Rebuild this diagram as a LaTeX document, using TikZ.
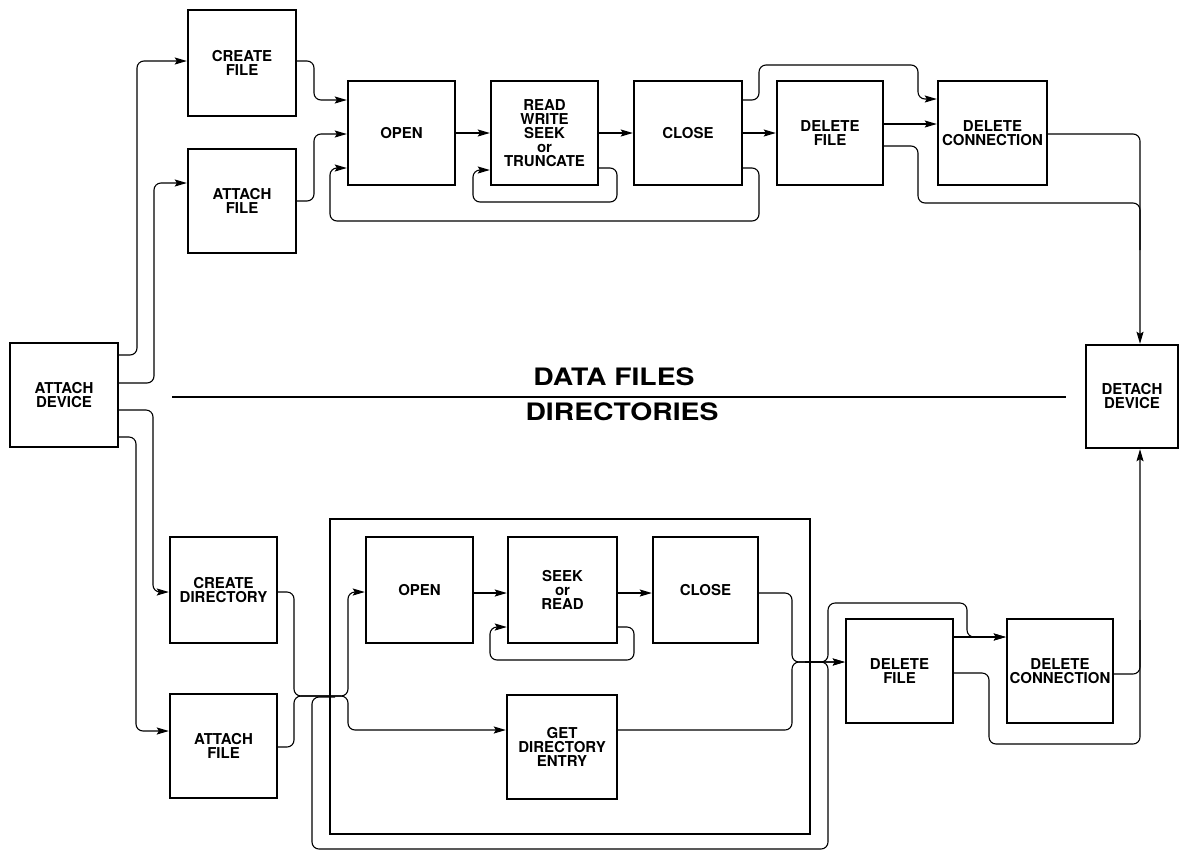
\documentclass[tikz,border=0pt]{standalone}
\usepackage{fontspec}
\usepackage{graphicx}
\setmainfont{TeX Gyre Heros}
\usetikzlibrary{arrows.meta}
\newcommand\bxfont{\bfseries\fontsize{15}{14}\selectfont}
\newcommand\ttlfont{\bfseries\fontsize{24}{26}\selectfont}
\tikzset{
  box/.style={draw, line width=2.4pt, inner sep=0pt, align=center, font=\bxfont},
  conn/.style={line width=1.1pt, rounded corners=7pt},
  arr/.style={conn, -{Stealth[length=12pt,width=7pt,inset=2pt]}},
  title/.style={inner sep=0pt, font=\ttlfont},
}
\begin{document}
\begin{tikzpicture}[x=1pt,y=-1pt]
\useasboundingbox (0,0) rectangle (1180,852);
% ---------- boxes: data files ----------
\node[box, minimum width=108pt, minimum height=104pt] (ad) at (64,395) {ATTACH\\DEVICE};
\node[box, minimum width=108pt, minimum height=106pt] (cf) at (242,63) {CREATE\\FILE};
\node[box, minimum width=108pt, minimum height=104pt] (af) at (242,201) {ATTACH\\FILE};
\node[box, minimum width=107pt, minimum height=104pt] (op) at (401.5,133) {OPEN};
\node[box, minimum width=107pt, minimum height=104pt] (rw) at (544.5,133) {READ\\WRITE\\SEEK\\or\\TRUNCATE};
\node[box, minimum width=108pt, minimum height=104pt] (cl) at (688,133) {CLOSE};
\node[box, minimum width=106pt, minimum height=104pt] (df) at (830,133) {DELETE\\FILE};
\node[box, minimum width=109pt, minimum height=104pt] (dc) at (992.5,133) {DELETE\\CONNECTION};
\node[box, minimum width=92pt, minimum height=103pt] (dd) at (1132,396.5) {DETACH\\DEVICE};
% ---------- divider and titles ----------
\coordinate (divl) at (172,397);
\coordinate (divr) at (1066,397);
\draw[line width=1.8pt] (divl) -- (divr);
\node[title] (t1) at (614,377) {\scalebox{1.18}[1]{DATA FILES}};
\node[title] (t2) at (622,412) {\scalebox{1.18}[1]{DIRECTORIES}};
% ---------- boxes: directories ----------
\node[draw, line width=2.8pt, inner sep=0pt, minimum width=480pt, minimum height=315pt] (grp) at (570,676.5) {};
\node[box, minimum width=107pt, minimum height=106pt] (cd) at (223.5,590) {CREATE\\DIRECTORY};
\node[box, minimum width=107pt, minimum height=104pt] (af2) at (223.5,746) {ATTACH\\FILE};
\node[box, minimum width=107pt, minimum height=106pt] (op2) at (419.5,590) {OPEN};
\node[box, minimum width=109pt, minimum height=106pt] (sr) at (562.5,590) {SEEK\\or\\READ};
\node[box, minimum width=105pt, minimum height=106pt] (cl2) at (705.5,590) {CLOSE};
\node[box, minimum width=110pt, minimum height=104pt] (gd) at (562,747) {GET\\DIRECTORY\\ENTRY};
\node[box, minimum width=107pt, minimum height=104pt] (df2) at (899.5,671) {DELETE\\FILE};
\node[box, minimum width=106pt, minimum height=104pt] (dc2) at (1060,671) {DELETE\\CONNECTION};
% ---------- connectors: attach device ----------
\draw[arr] (ad.east |- 0,355) -- (137,355) -- (137,61) -- (cf.west |- 0,61);
\draw[arr] (ad.east |- 0,383) -- (154,383) -- (154,183) -- (af.west |- 0,183);
\draw[arr] (ad.east |- 0,410) -- (153,410) -- (153,592) -- (cd.west |- 0,592);
\draw[arr] (ad.east |- 0,437) -- (136,437) -- (136,731) -- (af2.west |- 0,731);
% ---------- connectors: data files ----------
\draw[arr] (cf.east |- 0,61) -- (314,61) -- (314,100) -- (op.west |- 0,100);
\draw[arr] (af.east |- 0,201) -- (314,201) -- (314,134) -- (op.west |- 0,134);
\draw[arr] (cl.east |- 0,168) -- (759,168) -- (759,221) -- (330,221) -- (330,168) -- (op.west |- 0,168);
\draw[arr] (op.east) -- (rw.west);
\draw[arr] (rw.east |- 0,168) -- (617,168) -- (617,202) -- (473,202) -- (473,170) -- (rw.west |- 0,170);
\draw[arr] (rw.east) -- (cl.west);
\draw[arr] (cl.east) -- (df.west);
\draw[arr] (cl.east |- 0,100) -- (759,100) -- (759,65) -- (918,65) -- (918,99) -- (dc.west |- 0,99);
\draw[arr] (df.east |- 0,124) -- (dc.west |- 0,124);
\draw[conn] (df.east |- 0,146) -- (918,146) -- (918,203) -- (1140,203) -- (1140,250);
\draw[arr] (dc.east |- 0,134) -- (1140,134) -- (dd.north -| 1140,0);
% ---------- connectors: directories ----------
\draw[arr] (cd.east |- 0,592) -- (294,592) -- (294,696) -- (348,696) -- (348,592) -- (op2.west |- 0,592);
\draw[arr] (af2.east |- 0,747) -- (294,747) -- (294,696) -- (348,696) -- (348,730) -- (gd.west |- 0,730);
\draw[arr] (op2.east |- 0,593) -- (sr.west |- 0,593);
\draw[arr] (sr.east |- 0,627) -- (634,627) -- (634,660) -- (490,660) -- (490,627) -- (sr.west |- 0,627);
\draw[arr] (sr.east |- 0,593) -- (cl2.west |- 0,593);
\draw[arr] (cl2.east |- 0,593) -- (792,593) -- (792,662) -- (df2.west |- 0,662);
\draw[arr] (gd.east |- 0,730) -- (792,730) -- (792,662) -- (df2.west |- 0,662);
\draw[arr] (805,662) -- (828,662) -- (828,603) -- (967,603) -- (967,637) -- (dc2.west |- 0,637);
\draw[conn] (805,662) -- (828,662) -- (828,849) -- (312,849) -- (312,697) -- (335,697);
\draw[arr] (df2.east |- 0,637) -- (dc2.west |- 0,637);
\draw[conn] (df2.east |- 0,673) -- (989,673) -- (989,744) -- (1140,744) -- (1140,620);
\draw[arr] (dc2.east |- 0,674) -- (1140,674) -- (dd.south -| 1140,0);
\end{tikzpicture}
\end{document}
